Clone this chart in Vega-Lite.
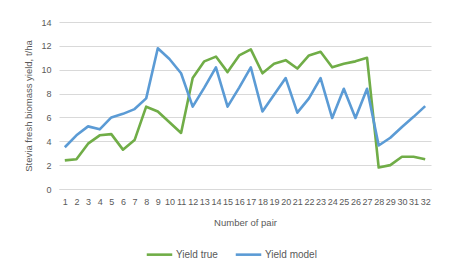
{
  "$schema": "https://vega.github.io/schema/vega-lite/v6.json",
  "width": 372,
  "height": 167,
  "autosize": "none",
  "padding": {"left": 59, "top": 22, "right": 20, "bottom": 88},
  "background": "white",
  "config": {
    "font": "Liberation Sans",
    "view": {"stroke": null},
    "axis": {"labelColor": "#595959", "titleColor": "#595959", "labelFontSize": 9, "titleFontSize": 9.5, "titleFontWeight": "normal"},
    "legend": {"labelColor": "#595959", "labelFontSize": 9.5}
  },
  "data": {
    "values": [
      {"pair": 1, "series": "Yield true", "yield": 2.4},
      {"pair": 2, "series": "Yield true", "yield": 2.5},
      {"pair": 3, "series": "Yield true", "yield": 3.8},
      {"pair": 4, "series": "Yield true", "yield": 4.5},
      {"pair": 5, "series": "Yield true", "yield": 4.6},
      {"pair": 6, "series": "Yield true", "yield": 3.3},
      {"pair": 7, "series": "Yield true", "yield": 4.1},
      {"pair": 8, "series": "Yield true", "yield": 6.9},
      {"pair": 9, "series": "Yield true", "yield": 6.5},
      {"pair": 10, "series": "Yield true", "yield": 5.6},
      {"pair": 11, "series": "Yield true", "yield": 4.7},
      {"pair": 12, "series": "Yield true", "yield": 9.3},
      {"pair": 13, "series": "Yield true", "yield": 10.7},
      {"pair": 14, "series": "Yield true", "yield": 11.1},
      {"pair": 15, "series": "Yield true", "yield": 9.8},
      {"pair": 16, "series": "Yield true", "yield": 11.2},
      {"pair": 17, "series": "Yield true", "yield": 11.7},
      {"pair": 18, "series": "Yield true", "yield": 9.7},
      {"pair": 19, "series": "Yield true", "yield": 10.5},
      {"pair": 20, "series": "Yield true", "yield": 10.8},
      {"pair": 21, "series": "Yield true", "yield": 10.1},
      {"pair": 22, "series": "Yield true", "yield": 11.2},
      {"pair": 23, "series": "Yield true", "yield": 11.5},
      {"pair": 24, "series": "Yield true", "yield": 10.2},
      {"pair": 25, "series": "Yield true", "yield": 10.5},
      {"pair": 26, "series": "Yield true", "yield": 10.7},
      {"pair": 27, "series": "Yield true", "yield": 11.0},
      {"pair": 28, "series": "Yield true", "yield": 1.8},
      {"pair": 29, "series": "Yield true", "yield": 2.0},
      {"pair": 30, "series": "Yield true", "yield": 2.7},
      {"pair": 31, "series": "Yield true", "yield": 2.7},
      {"pair": 32, "series": "Yield true", "yield": 2.5},
      {"pair": 1, "series": "Yield model", "yield": 3.5},
      {"pair": 2, "series": "Yield model", "yield": 4.5},
      {"pair": 3, "series": "Yield model", "yield": 5.25},
      {"pair": 4, "series": "Yield model", "yield": 5.0},
      {"pair": 5, "series": "Yield model", "yield": 6.0},
      {"pair": 6, "series": "Yield model", "yield": 6.3},
      {"pair": 7, "series": "Yield model", "yield": 6.7},
      {"pair": 8, "series": "Yield model", "yield": 7.6},
      {"pair": 9, "series": "Yield model", "yield": 11.8},
      {"pair": 10, "series": "Yield model", "yield": 10.9},
      {"pair": 11, "series": "Yield model", "yield": 9.7},
      {"pair": 12, "series": "Yield model", "yield": 6.9},
      {"pair": 13, "series": "Yield model", "yield": 8.5},
      {"pair": 14, "series": "Yield model", "yield": 10.2},
      {"pair": 15, "series": "Yield model", "yield": 6.9},
      {"pair": 16, "series": "Yield model", "yield": 8.5},
      {"pair": 17, "series": "Yield model", "yield": 10.2},
      {"pair": 18, "series": "Yield model", "yield": 6.5},
      {"pair": 19, "series": "Yield model", "yield": 7.9},
      {"pair": 20, "series": "Yield model", "yield": 9.3},
      {"pair": 21, "series": "Yield model", "yield": 6.4},
      {"pair": 22, "series": "Yield model", "yield": 7.6},
      {"pair": 23, "series": "Yield model", "yield": 9.3},
      {"pair": 24, "series": "Yield model", "yield": 5.95},
      {"pair": 25, "series": "Yield model", "yield": 8.4},
      {"pair": 26, "series": "Yield model", "yield": 5.95},
      {"pair": 27, "series": "Yield model", "yield": 8.4},
      {"pair": 28, "series": "Yield model", "yield": 3.65},
      {"pair": 29, "series": "Yield model", "yield": 4.3},
      {"pair": 30, "series": "Yield model", "yield": 5.2},
      {"pair": 31, "series": "Yield model", "yield": 6.05},
      {"pair": 32, "series": "Yield model", "yield": 6.95}
    ]
  },
  "mark": {"type": "line", "strokeWidth": 2.6, "strokeJoin": "round"},
  "encoding": {
    "x": {
      "field": "pair", "type": "ordinal",
      "scale": {"type": "point", "padding": 0.5},
      "axis": {"title": "Number of pair", "labelAngle": 0, "labelOverlap": false, "ticks": false, "domainColor": "#D9D9D9", "labelPadding": 8, "titlePadding": 11, "grid": false}
    },
    "y": {
      "field": "yield", "type": "quantitative",
      "scale": {"domain": [0, 14], "nice": false},
      "axis": {"title": "Stevia fresh biomass yield, t/ha", "values": [0, 2, 4, 6, 8, 10, 12, 14], "domain": false, "ticks": false, "gridColor": "#D9D9D9", "labelPadding": 8, "titlePadding": 7}
    },
    "color": {
      "field": "series", "type": "nominal",
      "scale": {"domain": ["Yield true", "Yield model"], "range": ["#70AD47", "#5B9BD5"]},
      "legend": {"title": null, "orient": "none", "direction": "horizontal", "legendX": 86, "legendY": 218, "symbolType": "stroke", "symbolSize": 650, "symbolStrokeWidth": 2.6, "columnPadding": 12, "labelOffset": 2, "labelFontSize": 10}
    },
    "order": {"field": "pair"}
  }
}
